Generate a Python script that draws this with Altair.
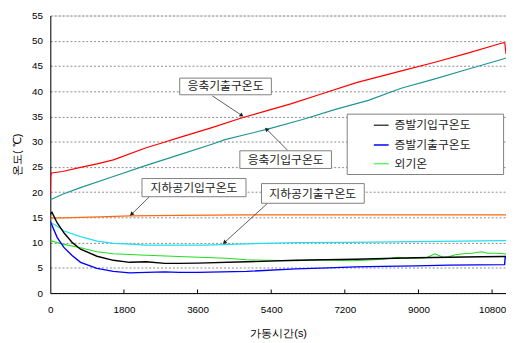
import math
import altair as alt
import pandas as pd

FONT = "Noto Sans CJK KR"

# ---------------- data ----------------
series_names = ["응축기출구온도", "응축기입구온도", "지하공기입구온도", "지하공기출구온도",
                "외기온", "증발기입구온도", "증발기출구온도"]
series_colors = ["#FF0000", "#1E9696", "#FF6A10", "#22DDF0", "#22DD22", "#000000", "#0000FF"]
series_widths = [1.2, 1.2, 1.2, 1.2, 1.1, 1.4, 1.4]

red_t = [0, 10, 30, 300, 738, 1140, 1541, 2344, 2746, 3146, 3950, 4672, 5364, 5878, 6680, 7483, 8607, 9381, 10184, 11068, 11110, 11140]
red_v = [19.5, 23.3, 23.8, 24.1, 24.9, 25.6, 26.4, 28.8, 29.8, 30.8, 32.8, 34.7, 36.3, 37.5, 39.6, 41.7, 44.1, 45.7, 47.5, 49.6, 49.6, 47.4]

teal_t = [0, 300, 738, 1541, 2344, 3146, 3950, 4271, 5315, 6168, 6971, 7774, 8578, 9381, 10184, 11068, 11140]
teal_v = [18.5, 19.6, 20.9, 23.1, 25.3, 27.4, 29.5, 30.4, 32.5, 34.4, 36.4, 38.2, 40.6, 42.4, 44.3, 46.4, 46.6]

orange_t = [0, 300, 738, 1200, 1942, 3146, 4800, 7200, 9000, 11140]
orange_v = [14.85, 14.9, 15.0, 15.1, 15.3, 15.4, 15.5, 15.5, 15.5, 15.5]

cyan_t = [0, 100, 337, 739, 1140, 1541, 1942, 2344, 3146, 3789, 4801, 6006, 7330, 8936, 11140]
cyan_v = [14.0, 13.6, 12.3, 11.2, 10.3, 9.85, 9.7, 9.5, 9.5, 9.5, 9.75, 10.0, 10.05, 10.2, 10.4]

green_t = [0, 337, 739, 1140, 1541, 2344, 3146, 3789, 4300, 4801, 5300, 6006, 6600, 7330, 7700, 8133,
           8500, 8700, 8936, 9200, 9400, 9600, 9739, 9900, 10100, 10300, 10541, 10700, 10900, 11105, 11140]
green_v = [10.4, 9.65, 9.0, 8.2, 7.8, 7.5, 7.25, 7.05, 6.9, 6.6, 6.5, 6.4, 6.6, 6.4, 6.5, 6.7,
           7.1, 6.9, 6.9, 7.0, 7.8, 7.1, 7.2, 7.6, 7.8, 7.9, 8.2, 7.9, 7.9, 7.8, 7.7]

black_t = [0, 40, 169, 337, 540, 739, 1140, 1541, 1942, 2344, 2800, 3146, 3597, 4801, 6006, 7451, 8936, 10541, 11105, 11140]
black_v = [15.6, 16.0, 13.9, 11.9, 10.0, 8.7, 7.3, 6.5, 6.1, 6.2, 5.9, 5.9, 5.95, 6.2, 6.5, 6.7, 7.0, 7.2, 7.25, 7.25]

blue_t = [0, 169, 337, 540, 739, 1140, 1541, 1942, 2344, 2800, 3146, 3597, 4801, 6006, 6800, 7451, 8133, 8936, 9739, 11105, 11120, 11140]
blue_v = [14.2, 11.0, 9.0, 7.4, 6.1, 4.9, 4.3, 4.0, 4.1, 4.2, 4.1, 4.1, 4.3, 4.8, 5.0, 5.2, 5.3, 5.4, 5.55, 5.65, 7.0, 7.0]

x_ticks = [0, 1800, 3600, 5400, 7200, 9000, 10800]
y_ticks = [0, 5, 10, 15, 20, 25, 30, 35, 40, 45, 50, 55]
X_MAX = 11140
Y_MAX = 55

# callouts: label, text centre, box corners, arrow start/end (data units)
ann_labels = ["응축기출구온도", "응축기입구온도", "지하공기입구온도", "지하공기출구온도"]
ann_tx = [4283, 5753, 3512, 6415]
ann_ty = [41.0, 26.4, 20.9, 19.7]
ann_bx1 = [3163, 4633, 2241, 5163]
ann_bx2 = [5404, 6873, 4784, 7675]
ann_by1 = [42.6, 28.2, 22.7, 21.7]
ann_by2 = [39.3, 24.7, 19.1, 17.8]
ann_ax1 = [3958, 5813, 2424, 5324]
ann_ay1 = [39.1, 28.2, 19.1, 17.9]
ann_ax2 = [4681, 5283, 1983, 4254]
ann_ay2 = [35.2, 32.5, 15.6, 10.0]

legend_names = ["증발기입구온도", "증발기출구온도", "외기온"]
legend_colors = ["#444444", "#0000FF", "#66EE66"]
legend_rows = [33.26, 29.35, 25.65]

# ---------------- layout ----------------
W, H = 463, 282
px_per_t = W / X_MAX
px_per_v = H / Y_MAX

rows = []
for k, (ts, vs) in enumerate([(red_t, red_v), (teal_t, teal_v), (orange_t, orange_v), (cyan_t, cyan_v),
                              (green_t, green_v), (black_t, black_v), (blue_t, blue_v)]):
    for i, (t, v) in enumerate(zip(ts, vs)):
        rows.append({"t": t, "v": v, "s": series_names[k], "w": series_widths[k], "o": i})
df = pd.DataFrame(rows)

xs = alt.Scale(domain=[0, X_MAX], nice=False, zero=False)
ys = alt.Scale(domain=[0, Y_MAX], nice=False, zero=False)

AX = alt.Axis(values=x_ticks, grid=False, tickSize=0, labelPadding=12, format="d", labelOverlap=False,
              title="가동시간(s)", titlePadding=13, labelFlush=False, titleFontWeight=400,
              domainColor="#000")
AY = alt.Axis(values=y_ticks, grid=True, gridDash=[2, 2], gridColor="#8a8a8a", format="d",
              labelOverlap=False, labelFlush=False, tickSize=0, labelPadding=8, title="온도( ℃)",
              titlePadding=9, titleFontWeight=400, domainColor="#000")


def X(field):
    return alt.X(field, type="quantitative", scale=xs, axis=AX)


def Y(field):
    return alt.Y(field, type="quantitative", scale=ys, axis=AY)


lines = alt.Chart(df).mark_line(clip=True).encode(
    x=X("t"), y=Y("v"),
    color=alt.Color("s:N", scale=alt.Scale(domain=series_names, range=series_colors), legend=None),
    strokeWidth=alt.StrokeWidth("w:Q", scale=None),
    order="o:Q",
)

tick_df = pd.DataFrame({"t": x_ticks[1:], "y0": [0] * 6, "y1": [0.72] * 6})
ticks = alt.Chart(tick_df).mark_rule(color="#000", strokeWidth=1).encode(
    x=X("t"), y=Y("y0"), y2="y1:Q")

ann = pd.DataFrame({"label": ann_labels, "tx": ann_tx, "ty": ann_ty, "bx1": ann_bx1, "bx2": ann_bx2,
                    "by1": ann_by1, "by2": ann_by2, "ax1": ann_ax1, "ay1": ann_ay1,
                    "ax2": ann_ax2, "ay2": ann_ay2})
ann["ang"] = [
    (math.degrees(math.atan2((x2 - x1) * px_per_t, (y2 - y1) * px_per_v)) + 360) % 360
    for x1, y1, x2, y2 in zip(ann_ax1, ann_ay1, ann_ax2, ann_ay2)
]

arrows = alt.Chart(ann).mark_rule(color="#333", strokeWidth=0.8).encode(
    x=X("ax1"), x2="ax2:Q", y=Y("ay1"), y2="ay2:Q")
heads = alt.Chart(ann).mark_point(shape="triangle-up", filled=True, color="#222", size=22, opacity=1).encode(
    x=X("ax2"), y=Y("ay2"), angle=alt.Angle("ang:Q", scale=None))
boxes = alt.Chart(ann).mark_rect(fill="white", stroke="#808080", strokeWidth=1).encode(
    x=X("bx1"), x2="bx2:Q", y=Y("by1"), y2="by2:Q")
texts = alt.Chart(ann).mark_text(font=FONT, fontSize=12, color="#222", align="center", baseline="middle").encode(
    x=X("tx"), y=Y("ty"), text="label:N")

# manual legend
leg_box = pd.DataFrame({"x1": [7258], "x2": [11081], "y1": [35.46], "y2": [23.5]})
legend_box = alt.Chart(leg_box).mark_rect(fill="white", stroke="#808080", strokeWidth=1).encode(
    x=X("x1"), x2="x2:Q", y=Y("y1"), y2="y2:Q")
leg = pd.DataFrame({"name": legend_names, "col": legend_colors, "row": legend_rows,
                    "sx1": [7909] * 3, "sx2": [8271] * 3, "tx": [8415] * 3})
legend_sym = alt.Chart(leg).mark_rule(strokeWidth=1.5).encode(
    x=X("sx1"), x2="sx2:Q", y=Y("row"), color=alt.Color("col:N", scale=None))
legend_txt = alt.Chart(leg).mark_text(font=FONT, fontSize=12, color="#222", align="left", baseline="middle").encode(
    x=X("tx"), y=Y("row"), text="name:N")

chart = alt.layer(lines, ticks, arrows, heads, boxes, texts, legend_box, legend_sym, legend_txt).properties(
    width=W, height=H,
    autosize=alt.AutoSizeParams(type="none"),
    padding={"left": 43, "top": 5, "right": 0, "bottom": 46},
).configure_view(stroke="#000", strokeWidth=1).configure_axis(
    labelFont=FONT, titleFont=FONT, labelFontSize=11, titleFontSize=12, labelColor="#222",
    titleColor="#222", titleFontWeight="normal", labelFontWeight="normal", domainWidth=1.5
).configure(background="white")

chart.save("out.html", embed_options={"renderer": "svg", "actions": False})
